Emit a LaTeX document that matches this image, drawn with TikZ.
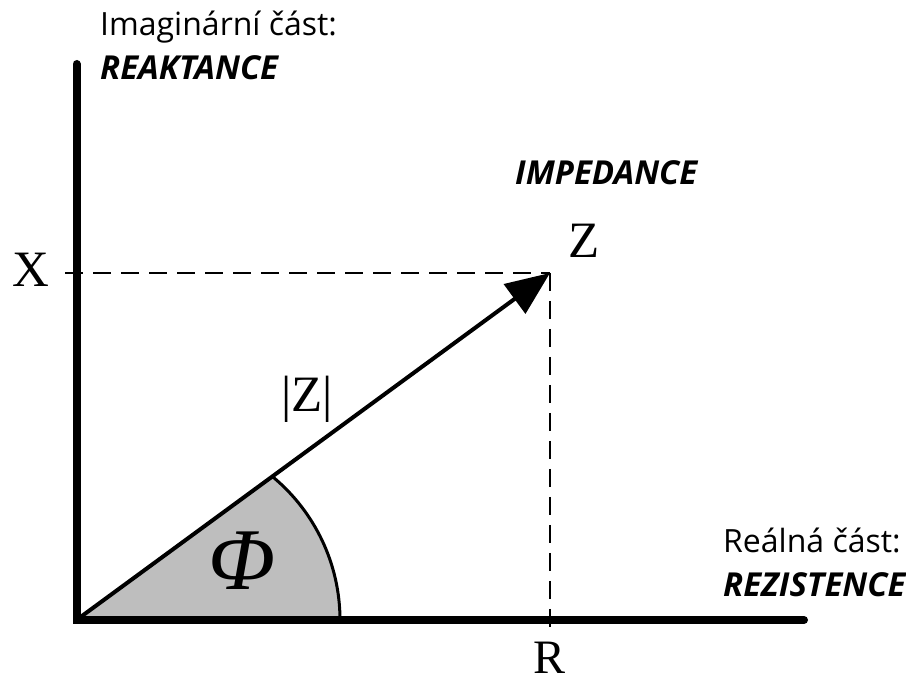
\documentclass[tikz,border=0pt]{standalone}
\usepackage{fontspec}
\setmainfont{Liberation Serif}
\newfontfamily\uisans{Open Sans}
\usetikzlibrary{arrows.meta}
\definecolor{wedgegray}{RGB}{190,190,190}
\tikzset{
  axisline/.style={line width=8pt,line cap=round},
  vecline/.style={line width=4pt,-{Triangle[length=44pt,width=36pt]}},
  helperline/.style={line width=2.4pt,dash pattern=on 18pt off 10pt},
  serlabel/.style={inner sep=0pt,anchor=base,font=\fontsize{51}{51}\selectfont},
  sanslabel/.style={inner sep=0pt,anchor=base west,font=\uisans\fontsize{32}{32}\selectfont},
  sansbold/.style={inner sep=0pt,anchor=base west,font=\uisans\bfseries\itshape\fontsize{33}{33}\selectfont}
}
\begin{document}
\begin{tikzpicture}[x=1pt,y=1pt]
\useasboundingbox (0,0) rectangle (906,684);
\coordinate (O) at (76.5,64);
\coordinate (top) at (76.5,620);
\coordinate (right) at (804,64);
\coordinate (Zp) at (550,411);
\coordinate (Xd) at (65,411);
\coordinate (Rd) at (550,52);
\coordinate (arcstart) at (340,64);
% wedge
\fill[wedgegray] (O) -- (arcstart) arc[start angle=0,end angle=50.2,radius=186] -- cycle;
\draw[line width=3pt] (arcstart) arc[start angle=0,end angle=50.2,radius=186];
% dashed helpers
\draw[helperline] (Xd) -- (Zp);
\draw[helperline] (Zp) -- (Rd);
% axes
\draw[axisline] (top) -- (O) -- (right);
% vector
\draw[vecline] (O) -- (Zp);
% labels
\node[serlabel] (lx) at (31,397) {X};
\node[serlabel] (lz) at (584,426) {Z};
\node[serlabel] (lmod) at (307,272) {|Z|};
\node[serlabel,font=\fontsize{48}{48}\selectfont] (lr) at (550,10) {R};
\node[inner sep=0pt,anchor=base,font=\itshape\fontsize{88}{88}\selectfont] (lphi) at (242,94) {Φ};
\node[sanslabel] (im) at (100,648) {Imaginární část:};
\node[sansbold] (reak) at (100,604) {REAKTANCE};
\node[sansbold] (imp) at (515,499) {IMPEDANCE};
\node[sanslabel] (re) at (723,131) {Reálná část:};
\node[sansbold] (rez) at (723,87) {REZISTENCE};
\end{tikzpicture}
\end{document}
